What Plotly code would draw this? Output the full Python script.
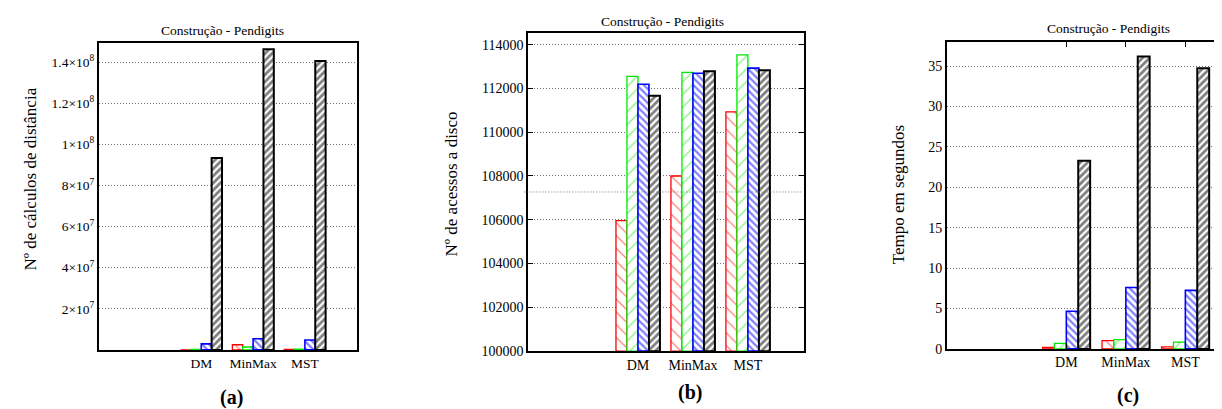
import plotly.graph_objects as go

# ---------------- data ----------------
categories = ["DM", "MinMax", "MST"]
cat_pos = [2, 3, 4]
series_names = ["S1", "S2", "S3", "S4"]

# (a) distance computations
dist_red = [0.0, 2.5e6, 2.0e5]
dist_green = [2.0e5, 1.4e6, 3.0e5]
dist_blue = [2.9e6, 5.4e6, 4.8e6]
dist_black = [9.33e7, 1.462e8, 1.405e8]

# (b) disk accesses
disk_red = [105960, 108000, 110925]
disk_green = [112550, 112730, 113530]
disk_blue = [112190, 112690, 112925]
disk_black = [111670, 112790, 112835]

# (c) time in seconds
time_red = [0.2, 1.02, 0.24]
time_green = [0.69, 1.14, 0.85]
time_blue = [4.66, 7.6, 7.24]
time_black = [23.3, 36.2, 34.75]

a_tickvals = [2e7, 4e7, 6e7, 8e7, 1e8, 1.2e8, 1.4e8]
a_ticktext = ["2×10<sup>7</sup>", "4×10<sup>7</sup>", "6×10<sup>7</sup>", "8×10<sup>7</sup>",
              "1×10<sup>8</sup>", "1.2×10<sup>8</sup>", "1.4×10<sup>8</sup>"]
b_tickvals = [100000, 102000, 104000, 106000, 108000, 110000, 112000, 114000]
b_ticktext = [str(v) for v in b_tickvals]
c_tickvals = [0, 5, 10, 15, 20, 25, 30, 35]

panel_title = "Construção - Pendigits"
ytitles = ["Nº de cálculos de distância", "Nº de acessos a disco", "Tempo em segundos"]
panel_labels = ["(a)", "(b)", "(c)"]
stray_line_b = 107270

# ---------------- style ----------------
W, H = 1222, 409
FONT = "Liberation Serif"
GRID = "#707070"
GRIDDASH = "1px,2px"
styles = [
    dict(color="#ff0000", shape="\\", size=9, solidity=0.14, lw=1.3),
    dict(color="#00e600", shape="/", size=9, solidity=0.14, lw=1.3),
    dict(color="#0000ff", shape="\\", size=5, solidity=0.45, lw=1.6),
    dict(color="#000000", shape="/", size=5, solidity=0.55, lw=2.0),
]

def px_x(v):
    return v / W

def px_y(v):
    return 1 - v / H

panels = [
    dict(data=[dist_red, dist_green, dist_blue, dist_black],
         xdom=[px_x(90.7), px_x(348.7)], ydom=[px_y(348.7), px_y(35.7)],
         yrange=[0, 1.493e8], xrange=[0.02, 5.0], tickfs=13.5),
    dict(data=[disk_red, disk_green, disk_blue, disk_black],
         xdom=[px_x(520), px_x(796)], ydom=[px_y(350), px_y(25.3)],
         yrange=[100000, 114540], xrange=[0.0, 5.02], tickfs=14),
    dict(data=[time_red, time_green, time_blue, time_black],
         xdom=[px_x(938.7), 1.0], ydom=[px_y(347.7), px_y(34.3)],
         yrange=[0, 38.03], xrange=[-0.01, 4.75], tickfs=14),
]

fig = go.Figure()
layout = dict(
    width=W, height=H, margin=dict(l=0, r=0, t=0, b=0),
    paper_bgcolor="white", plot_bgcolor="white",
    barmode="group", bargap=0.2, bargroupgap=0.0,
    showlegend=False, font=dict(family=FONT, color="black", size=14),
)

for i, p in enumerate(panels):
    sfx = "" if i == 0 else str(i + 1)
    for j, vals in enumerate(p["data"]):
        st = styles[j]
        fig.add_trace(go.Bar(
            x=cat_pos,
            y=[v - p["yrange"][0] for v in vals],
            base=p["yrange"][0],
            name=series_names[j],
            xaxis="x" + sfx, yaxis="y" + sfx,
            offsetgroup=str(j),
            marker=dict(color="white",
                        line=dict(color=st["color"], width=st["lw"]),
                        pattern=dict(shape=st["shape"], fgcolor=st["color"], bgcolor="white",
                                     size=st["size"], solidity=st["solidity"])),
        ))
    xa = dict(domain=p["xdom"], range=p["xrange"], anchor="y" + sfx,
              tickmode="array", tickvals=cat_pos, ticktext=categories,
              showgrid=False, zeroline=False, showline=True, linecolor="black", linewidth=1.5,
              tickfont=dict(size=p["tickfs"], family=FONT, color="black"),
              mirror=True, ticks="", fixedrange=True)
    if i == 2:
        xa.update(ticks="inside", ticklen=6, tickcolor="black", mirror="ticks")
    ya = dict(domain=p["ydom"], range=p["yrange"], anchor="x" + sfx,
              showgrid=True, gridcolor=GRID, griddash=GRIDDASH, gridwidth=1,
              zeroline=False, showline=True, linecolor="black", linewidth=1.5,
              tickfont=dict(size=p["tickfs"], family=FONT, color="black"),
              mirror=True, ticks="", ticklen=5, tickcolor="black")
    if i == 0:
        ya.update(tickmode="array", tickvals=a_tickvals, ticktext=a_ticktext)
    elif i == 1:
        ya.update(tickmode="array", tickvals=b_tickvals, ticktext=b_ticktext,
                  mirror="ticks", ticks="inside")
    else:
        ya.update(tickmode="array", tickvals=c_tickvals, ticktext=[str(v) for v in c_tickvals],
                  mirror=False)
    layout["xaxis" + sfx] = xa
    layout["yaxis" + sfx] = ya

fig.update_layout(**layout)

# titles and labels
title_pos = [(214, 22.7), (654, 13.3), (1100, 20.7)]
ytitle_pos = [(23, 175), (443, 180), (890, 190)]
label_pos = [(223, 397), (682, 392), (1120, 395)]
for i in range(3):
    tx, ty = title_pos[i]
    fig.add_annotation(text=panel_title, x=px_x(tx), y=px_y(ty), xref="paper", yref="paper",
                       showarrow=False, font=dict(size=13.5, family=FONT, color="black"),
                       xanchor="center", yanchor="middle")
    yx, yy = ytitle_pos[i]
    fig.add_annotation(text=ytitles[i], x=px_x(yx), y=px_y(yy), xref="paper", yref="paper",
                       showarrow=False, textangle=-90, font=dict(size=17, family=FONT, color="black"),
                       xanchor="center", yanchor="middle")
    lx, ly = label_pos[i]
    fig.add_annotation(text="<b>" + panel_labels[i] + "</b>", x=px_x(lx), y=px_y(ly),
                       xref="paper", yref="paper", showarrow=False,
                       font=dict(size=20, family=FONT, color="black"),
                       xanchor="center", yanchor="middle")

# stray dotted guide line in panel (b)
fig.add_shape(type="line", xref="x2 domain", yref="y2", x0=-0.013, x1=0.99,
              y0=stray_line_b, y1=stray_line_b, line=dict(color=GRID, width=1, dash=GRIDDASH))

fig.write_html("out.html")
